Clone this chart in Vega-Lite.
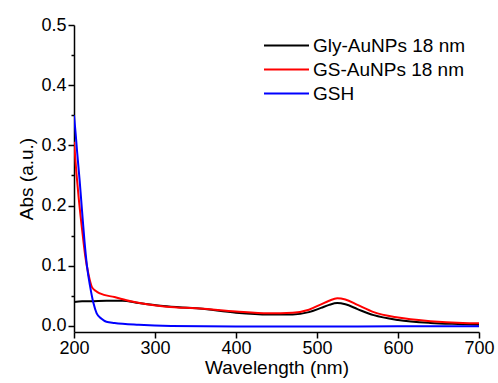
{
  "$schema": "https://vega.github.io/schema/vega-lite/v6.json",
  "autosize": "none",
  "width": 405,
  "height": 307,
  "padding": {"left": 74, "top": 25, "right": 19, "bottom": 51},
  "background": "white",
  "config": {
    "font": "Liberation Sans",
    "view": {"stroke": null},
    "axis": {"grid": false, "domainColor": "black", "tickColor": "black", "labelColor": "black", "titleColor": "black", "labelFont": "Liberation Sans", "titleFont": "Liberation Sans", "titleFontWeight": "normal", "labelFontSize": 18, "titleFontSize": 19, "domainWidth": 1.5, "tickWidth": 1.5, "labelFlush": false}
  },
  "data": {
    "values": [
      {"s": "Gly-AuNPs 18 nm", "w": 200, "a": 0.040},
      {"s": "Gly-AuNPs 18 nm", "w": 210, "a": 0.041},
      {"s": "Gly-AuNPs 18 nm", "w": 220, "a": 0.041},
      {"s": "Gly-AuNPs 18 nm", "w": 240, "a": 0.042},
      {"s": "Gly-AuNPs 18 nm", "w": 260, "a": 0.042},
      {"s": "Gly-AuNPs 18 nm", "w": 280, "a": 0.038},
      {"s": "Gly-AuNPs 18 nm", "w": 310, "a": 0.033},
      {"s": "Gly-AuNPs 18 nm", "w": 355, "a": 0.029},
      {"s": "Gly-AuNPs 18 nm", "w": 400, "a": 0.022},
      {"s": "Gly-AuNPs 18 nm", "w": 440, "a": 0.019},
      {"s": "Gly-AuNPs 18 nm", "w": 470, "a": 0.019},
      {"s": "Gly-AuNPs 18 nm", "w": 490, "a": 0.023},
      {"s": "Gly-AuNPs 18 nm", "w": 505, "a": 0.030},
      {"s": "Gly-AuNPs 18 nm", "w": 515, "a": 0.035},
      {"s": "Gly-AuNPs 18 nm", "w": 525, "a": 0.038},
      {"s": "Gly-AuNPs 18 nm", "w": 535, "a": 0.036},
      {"s": "Gly-AuNPs 18 nm", "w": 550, "a": 0.028},
      {"s": "Gly-AuNPs 18 nm", "w": 570, "a": 0.018},
      {"s": "Gly-AuNPs 18 nm", "w": 600, "a": 0.010},
      {"s": "Gly-AuNPs 18 nm", "w": 640, "a": 0.005},
      {"s": "Gly-AuNPs 18 nm", "w": 680, "a": 0.003},
      {"s": "Gly-AuNPs 18 nm", "w": 700, "a": 0.002},
      {"s": "GS-AuNPs 18 nm", "w": 200, "a": 0.306},
      {"s": "GS-AuNPs 18 nm", "w": 203, "a": 0.254},
      {"s": "GS-AuNPs 18 nm", "w": 206, "a": 0.21},
      {"s": "GS-AuNPs 18 nm", "w": 210, "a": 0.16},
      {"s": "GS-AuNPs 18 nm", "w": 214, "a": 0.115},
      {"s": "GS-AuNPs 18 nm", "w": 218, "a": 0.085},
      {"s": "GS-AuNPs 18 nm", "w": 222, "a": 0.065},
      {"s": "GS-AuNPs 18 nm", "w": 227, "a": 0.058},
      {"s": "GS-AuNPs 18 nm", "w": 232, "a": 0.054},
      {"s": "GS-AuNPs 18 nm", "w": 250, "a": 0.048},
      {"s": "GS-AuNPs 18 nm", "w": 270, "a": 0.041},
      {"s": "GS-AuNPs 18 nm", "w": 290, "a": 0.036},
      {"s": "GS-AuNPs 18 nm", "w": 314, "a": 0.032},
      {"s": "GS-AuNPs 18 nm", "w": 355, "a": 0.029},
      {"s": "GS-AuNPs 18 nm", "w": 400, "a": 0.024},
      {"s": "GS-AuNPs 18 nm", "w": 440, "a": 0.021},
      {"s": "GS-AuNPs 18 nm", "w": 470, "a": 0.022},
      {"s": "GS-AuNPs 18 nm", "w": 490, "a": 0.027},
      {"s": "GS-AuNPs 18 nm", "w": 505, "a": 0.036},
      {"s": "GS-AuNPs 18 nm", "w": 515, "a": 0.042},
      {"s": "GS-AuNPs 18 nm", "w": 525, "a": 0.046},
      {"s": "GS-AuNPs 18 nm", "w": 535, "a": 0.044},
      {"s": "GS-AuNPs 18 nm", "w": 550, "a": 0.035},
      {"s": "GS-AuNPs 18 nm", "w": 570, "a": 0.023},
      {"s": "GS-AuNPs 18 nm", "w": 600, "a": 0.014},
      {"s": "GS-AuNPs 18 nm", "w": 640, "a": 0.008},
      {"s": "GS-AuNPs 18 nm", "w": 680, "a": 0.005},
      {"s": "GS-AuNPs 18 nm", "w": 700, "a": 0.0045},
      {"s": "GSH", "w": 200, "a": 0.35},
      {"s": "GSH", "w": 202, "a": 0.32},
      {"s": "GSH", "w": 204, "a": 0.287},
      {"s": "GSH", "w": 207, "a": 0.241},
      {"s": "GSH", "w": 210, "a": 0.19},
      {"s": "GSH", "w": 213, "a": 0.14},
      {"s": "GSH", "w": 216, "a": 0.10},
      {"s": "GSH", "w": 220, "a": 0.065},
      {"s": "GSH", "w": 224, "a": 0.038},
      {"s": "GSH", "w": 228, "a": 0.021},
      {"s": "GSH", "w": 234, "a": 0.012},
      {"s": "GSH", "w": 240, "a": 0.007},
      {"s": "GSH", "w": 250, "a": 0.005},
      {"s": "GSH", "w": 280, "a": 0.002},
      {"s": "GSH", "w": 320, "a": 0.0},
      {"s": "GSH", "w": 400, "a": -0.001},
      {"s": "GSH", "w": 500, "a": -0.001},
      {"s": "GSH", "w": 600, "a": -0.0005},
      {"s": "GSH", "w": 700, "a": -0.0005}
    ]
  },
  "mark": {"type": "line", "strokeWidth": 2, "interpolate": "monotone", "clip": true},
  "encoding": {
    "x": {
      "field": "w", "type": "quantitative",
      "scale": {"domain": [200, 700], "nice": false, "zero": false},
      "axis": {"title": "Wavelength (nm)", "values": [200, 300, 400, 500, 600, 700], "tickSize": 6, "labelPadding": 1, "titlePadding": 1}
    },
    "y": {
      "field": "a", "type": "quantitative",
      "scale": {"domain": [-0.01, 0.5], "nice": false, "zero": false},
      "axis": {
        "title": "Abs (a.u.)",
        "values": [0, 0.05, 0.1, 0.15, 0.2, 0.25, 0.3, 0.35, 0.4, 0.45, 0.5],
        "labelExpr": "round(datum.value*100) % 10 == 0 ? format(datum.value, '.1f') : ''",
        "tickSize": {"condition": {"test": "round(datum.value*100) % 10 == 0", "value": 6}, "value": 3},
        "labelPadding": 2,
        "titlePadding": 4
      }
    },
    "color": {
      "field": "s", "type": "nominal",
      "scale": {"domain": ["Gly-AuNPs 18 nm", "GS-AuNPs 18 nm", "GSH"], "range": ["black", "red", "blue"]},
      "legend": {
        "title": null, "orient": "none", "legendX": 216, "legendY": 10.5,
        "symbolType": "M-4,0H1", "symbolSize": 324, "symbolStrokeWidth": 2,
        "labelFontSize": 19, "labelFont": "Liberation Sans", "labelColor": "black",
        "rowPadding": 4, "labelOffset": 3
      }
    }
  }
}
